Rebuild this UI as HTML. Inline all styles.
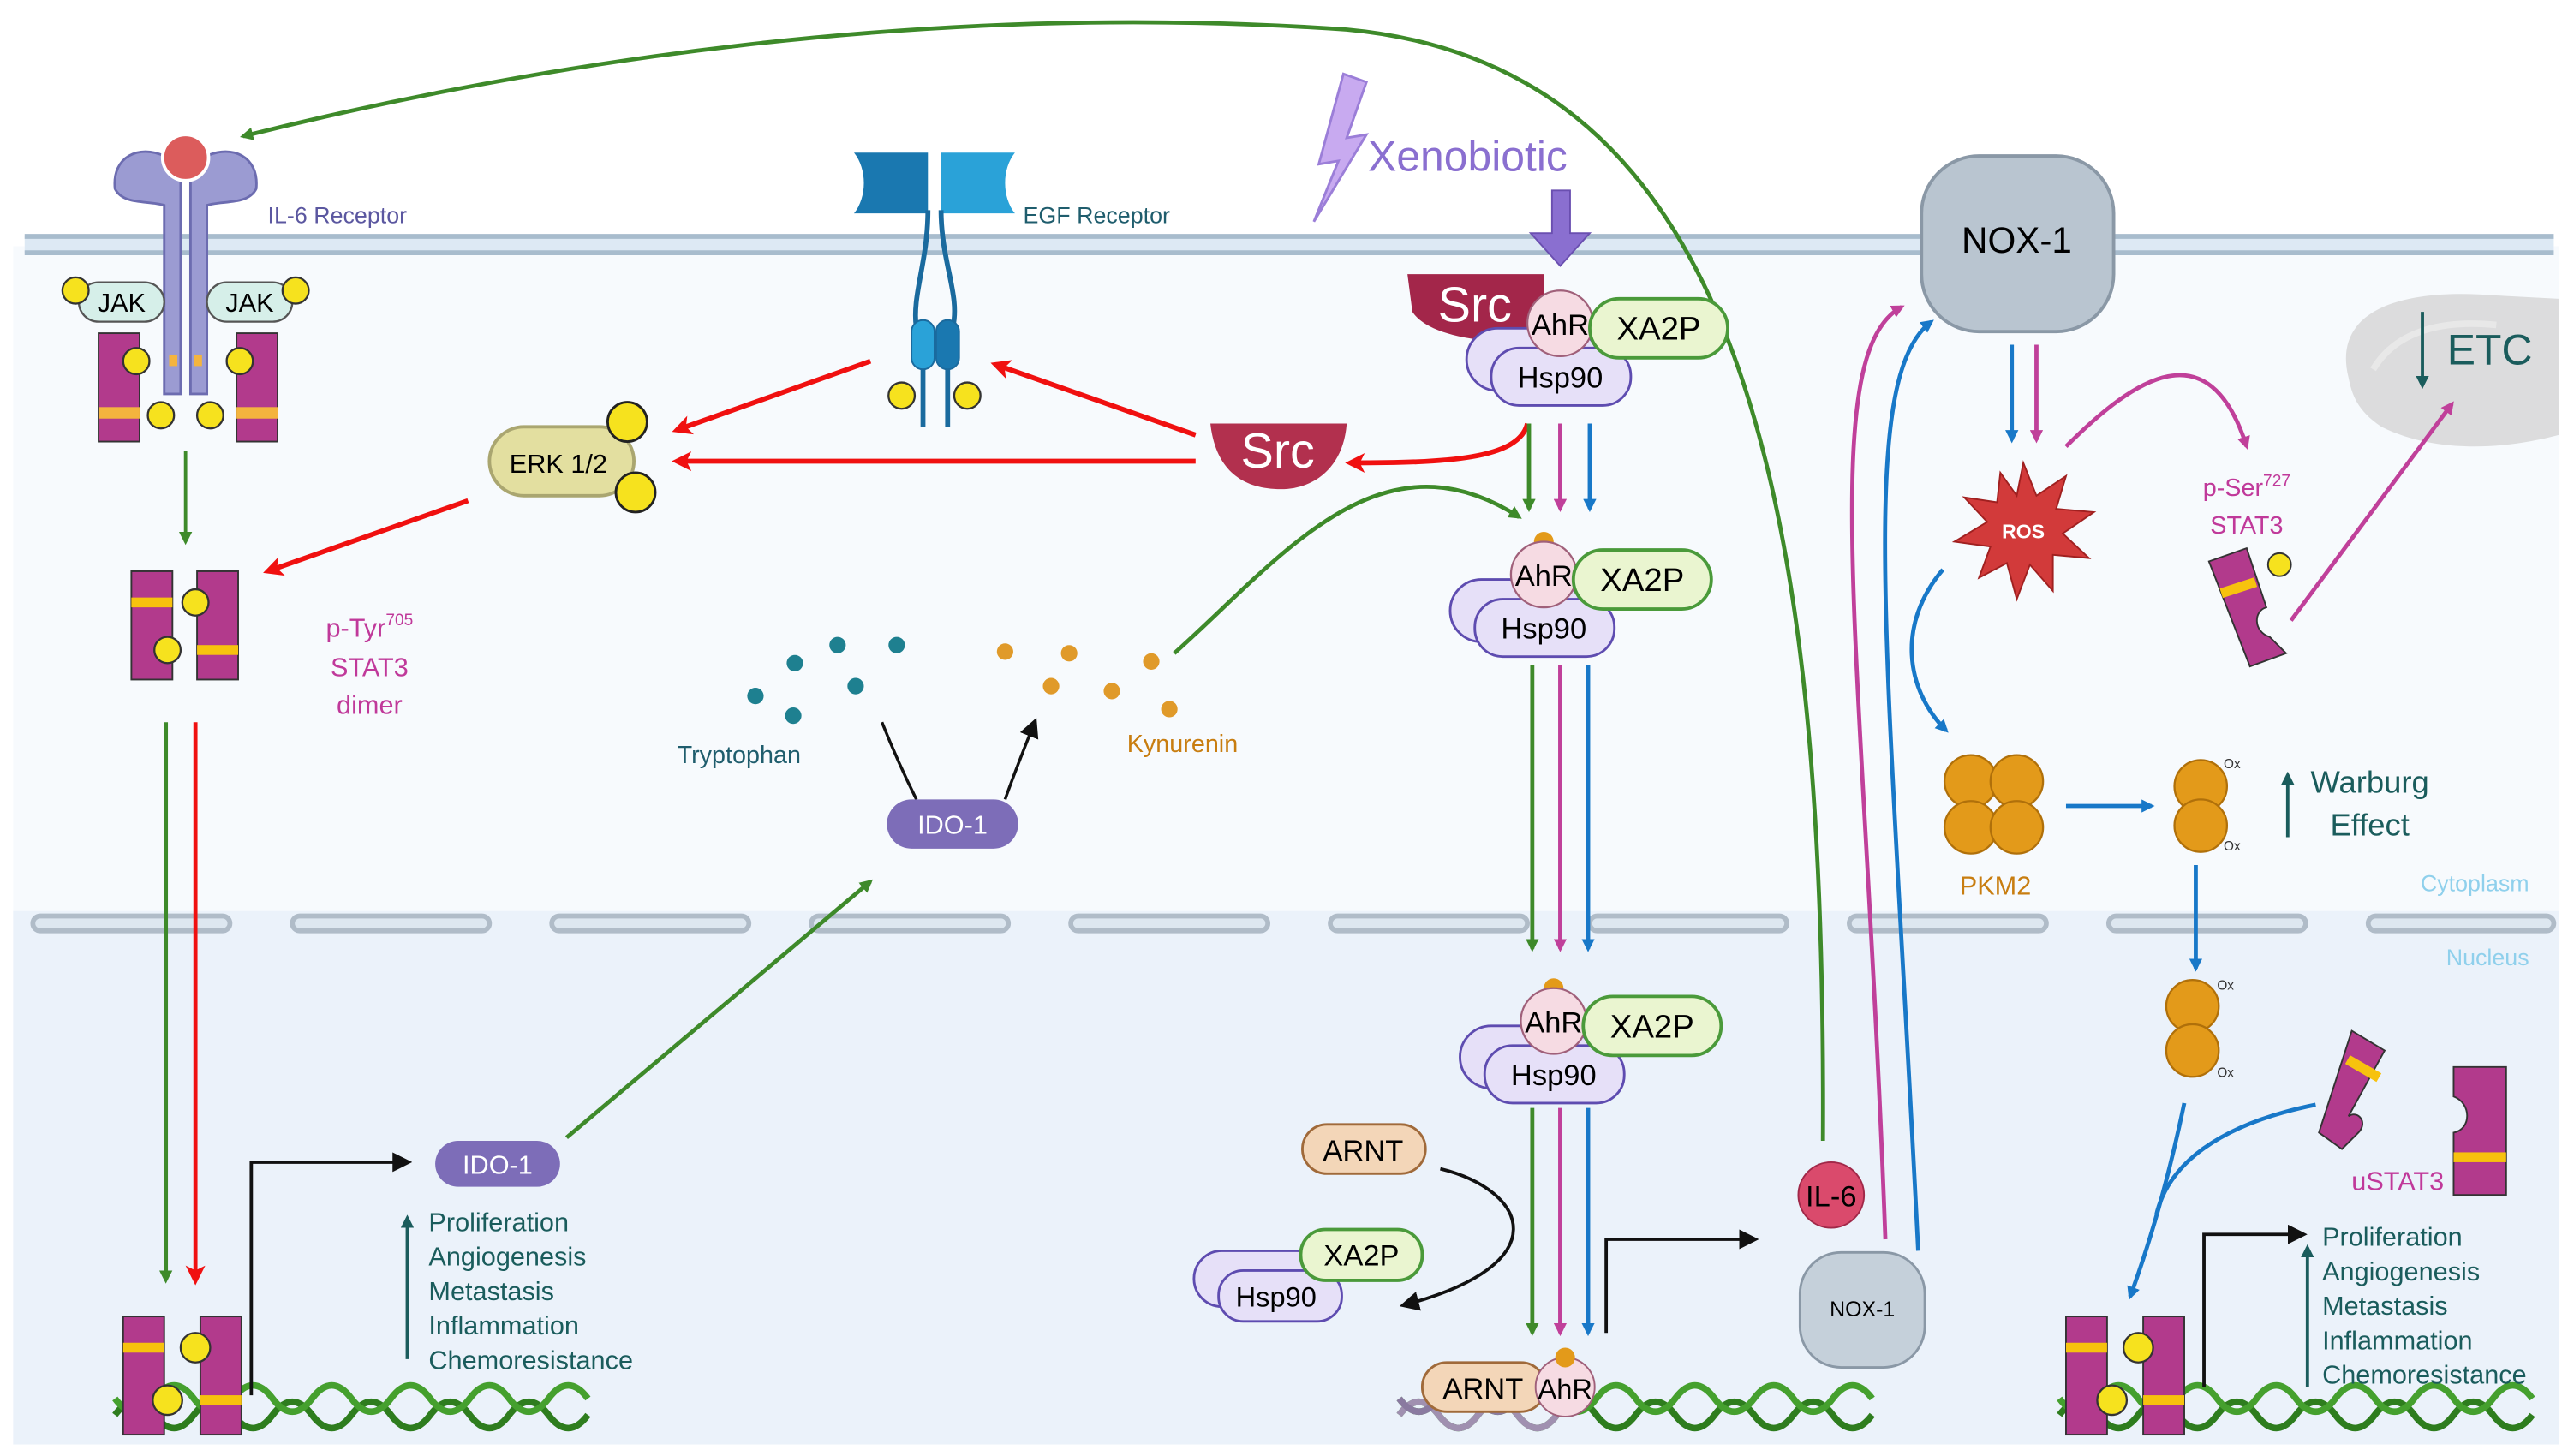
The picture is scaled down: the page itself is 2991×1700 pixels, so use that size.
<!DOCTYPE html>
<html><head><meta charset="utf-8"><style>
html,body{margin:0;padding:0;background:#fff}
svg{display:block}
text{font-family:"Liberation Sans",sans-serif}
</style></head><body>
<svg width="2991" height="1700" viewBox="0 0 1560 887" preserveAspectRatio="none" xmlns="http://www.w3.org/2000/svg">
<defs>
<marker id="ag" markerWidth="8" markerHeight="8" refX="6" refY="4" orient="auto" markerUnits="userSpaceOnUse"><path d="M0,0 L8,4 L0,8 Z" fill="#3e8a2a"/></marker>
<marker id="ar" markerWidth="12" markerHeight="12" refX="9" refY="6" orient="auto" markerUnits="userSpaceOnUse"><path d="M0,0 L12,6 L0,12 L3,6 Z" fill="#f01010"/></marker>
<marker id="am" markerWidth="8" markerHeight="8" refX="6" refY="4" orient="auto" markerUnits="userSpaceOnUse"><path d="M0,0 L8,4 L0,8 Z" fill="#c0409a"/></marker>
<marker id="ab" markerWidth="8" markerHeight="8" refX="6" refY="4" orient="auto" markerUnits="userSpaceOnUse"><path d="M0,0 L8,4 L0,8 Z" fill="#1878c8"/></marker>
<marker id="ak" markerWidth="12" markerHeight="12" refX="9" refY="6" orient="auto" markerUnits="userSpaceOnUse"><path d="M0,0 L12,6 L0,12 Z" fill="#111"/></marker>
<marker id="at" markerWidth="8" markerHeight="8" refX="6" refY="4" orient="auto" markerUnits="userSpaceOnUse"><path d="M0,0 L8,4 L0,8 Z" fill="#1a5c5c"/></marker>
</defs>
<!-- backgrounds -->
<rect x="0" y="0" width="1560" height="887" fill="#fff"/>
<rect x="8" y="150" width="1550" height="410" fill="#f7fafd"/>
<rect x="8" y="555" width="1550" height="325" fill="#ebf2fa"/>
<!-- membrane -->
<rect x="15" y="144" width="1540" height="10" fill="#dde9f4"/>
<line x1="15" y1="144" x2="1555" y2="144" stroke="#a8bccd" stroke-width="3"/>
<line x1="15" y1="154" x2="1555" y2="154" stroke="#a8bccd" stroke-width="3"/>
<!-- nuclear envelope -->
<g fill="#dde7f0" stroke="#b0bcc8" stroke-width="3">
<rect x="20" y="558" width="120" height="9" rx="4.5"/><rect x="178" y="558" width="120" height="9" rx="4.5"/>
<rect x="336" y="558" width="120" height="9" rx="4.5"/><rect x="494" y="558" width="120" height="9" rx="4.5"/>
<rect x="652" y="558" width="120" height="9" rx="4.5"/><rect x="810" y="558" width="120" height="9" rx="4.5"/>
<rect x="968" y="558" width="120" height="9" rx="4.5"/><rect x="1126" y="558" width="120" height="9" rx="4.5"/>
<rect x="1284" y="558" width="120" height="9" rx="4.5"/><rect x="1442" y="558" width="113" height="9" rx="4.5"/>
</g>
<text x="1540" y="543" font-size="14" fill="#8fd0ec" text-anchor="end">Cytoplasm</text>
<text x="1540" y="588" font-size="14" fill="#8fd0ec" text-anchor="end">Nucleus</text>

<!-- mitochondria -->
<path d="M1430,230 C1420,190 1460,175 1520,180 L1558,182 L1558,265 C1520,275 1480,275 1450,260 C1435,250 1432,240 1430,230 Z" fill="#d4d4d4" opacity="0.8"/>
<path d="M1445,225 C1460,200 1490,195 1520,198" stroke="#e8e8e8" stroke-width="4" fill="none"/>
<line x1="1475" y1="190" x2="1475" y2="235" stroke="#1a5c5c" stroke-width="2" marker-end="url(#at)"/>
<text x="1490" y="222" font-size="26" fill="#1a5c5c">ETC</text>

<!-- big green path -->
<path d="M1110,695 C1112,300 1060,40 820,18 C560,0 320,40 148,83" stroke="#3e8a2a" stroke-width="2.5" fill="none" marker-end="url(#ag)"/>

<!-- IL-6 receptor -->
<g>
<path d="M70,115 C68,95 85,88 100,95 L110,108 L110,240 L100,240 L100,125 C90,122 75,125 70,115Z" fill="#9b9bd2" stroke="#6c6cb0" stroke-width="1.5"/>
<path d="M156,115 C158,95 141,88 126,95 L116,108 L116,240 L126,240 L126,125 C136,122 151,125 156,115Z" fill="#9b9bd2" stroke="#6c6cb0" stroke-width="1.5"/>
<circle cx="113" cy="96" r="14" fill="#dc5c5c" stroke="#fff" stroke-width="2"/>
<text x="163" y="136" font-size="14" fill="#5b57a0">IL-6 Receptor</text>
<rect x="48" y="172" width="52" height="24" rx="12" fill="#d6efe9" stroke="#555" stroke-width="1.2"/>
<rect x="126" y="172" width="52" height="24" rx="12" fill="#d6efe9" stroke="#555" stroke-width="1.2"/>
<text x="74" y="190" font-size="16" text-anchor="middle">JAK</text>
<text x="152" y="190" font-size="16" text-anchor="middle">JAK</text>
<g fill="#f6e21e" stroke="#333" stroke-width="1.2"><circle cx="46" cy="177" r="8"/><circle cx="180" cy="177" r="8"/></g>
<rect x="60" y="203" width="25" height="66" fill="#b23a8c" stroke="#333" stroke-width="1"/>
<rect x="144" y="203" width="25" height="66" fill="#b23a8c" stroke="#333" stroke-width="1"/>
<rect x="60" y="248" width="25" height="7" fill="#f4b43e"/><rect x="144" y="248" width="25" height="7" fill="#f4b43e"/>
<rect x="103" y="216" width="5" height="7" fill="#f4b43e"/><rect x="118" y="216" width="5" height="7" fill="#f4b43e"/>
<g fill="#f6e21e" stroke="#333" stroke-width="1.2"><circle cx="83" cy="220" r="8"/><circle cx="146" cy="220" r="8"/><circle cx="98" cy="253" r="8"/><circle cx="128" cy="253" r="8"/></g>
</g>
<line x1="113" y1="275" x2="113" y2="330" stroke="#3e8a2a" stroke-width="2" marker-end="url(#ag)"/>
<!-- p-Tyr dimer -->
<rect x="80" y="348" width="25" height="66" fill="#b23a8c" stroke="#333"/>
<rect x="120" y="348" width="25" height="66" fill="#b23a8c" stroke="#333"/>
<rect x="80" y="364" width="25" height="6" fill="#f7c20e"/><rect x="120" y="393" width="25" height="6" fill="#f7c20e"/>
<g fill="#f6e21e" stroke="#333" stroke-width="1.2"><circle cx="119" cy="367" r="8"/><circle cx="102" cy="396" r="8"/></g>
<text x="225" y="388" font-size="16" fill="#c0399a" text-anchor="middle">p-Tyr<tspan font-size="10" dy="-7">705</tspan></text>
<text x="225" y="412" font-size="16" fill="#c0399a" text-anchor="middle">STAT3</text>
<text x="225" y="435" font-size="16" fill="#c0399a" text-anchor="middle">dimer</text>
<line x1="101" y1="440" x2="101" y2="780" stroke="#3e8a2a" stroke-width="2.5" marker-end="url(#ag)"/>
<line x1="119" y1="440" x2="119" y2="780" stroke="#f01010" stroke-width="2.5" marker-end="url(#ar)"/>

<!-- DNA helper: left -->
<g stroke-width="4" fill="none">
<path d="M70,862 q12,-16 24,0 t24,0 t24,0 t24,0 t24,0 t24,0 t24,0 t24,0 t24,0 t24,0 t24,0 t24,0" stroke="#2e7d1e"/>
<path d="M70,852 q12,16 24,0 t24,0 t24,0 t24,0 t24,0 t24,0 t24,0 t24,0 t24,0 t24,0 t24,0 t24,0" stroke="#45a02e"/>
<path d="M852,862 q12,-16 24,0 t24,0 t24,0 t24,0 t24,0 t24,0 t24,0 t24,0 t24,0 t24,0 t24,0 t24,0" stroke="#2e7d1e"/>
<path d="M852,852 q12,16 24,0 t24,0 t24,0 t24,0 t24,0 t24,0 t24,0 t24,0 t24,0 t24,0 t24,0 t24,0" stroke="#45a02e"/>
<path d="M1254,862 q12,-16 24,0 t24,0 t24,0 t24,0 t24,0 t24,0 t24,0 t24,0 t24,0 t24,0 t24,0 t24,0" stroke="#2e7d1e"/>
<path d="M1254,852 q12,16 24,0 t24,0 t24,0 t24,0 t24,0 t24,0 t24,0 t24,0 t24,0 t24,0 t24,0 t24,0" stroke="#45a02e"/>
<path d="M852,862 q12,-16 24,0 t24,0 t24,0 t24,0" stroke="#a090b0"/>
<path d="M852,852 q12,16 24,0 t24,0 t24,0 t24,0" stroke="#8a7aa0"/>
</g>
<!-- bottom-left dimer -->
<rect x="75" y="802" width="25" height="72" fill="#b23a8c" stroke="#333"/>
<rect x="122" y="802" width="25" height="72" fill="#b23a8c" stroke="#333"/>
<rect x="75" y="818" width="25" height="6" fill="#f7c20e"/><rect x="122" y="850" width="25" height="6" fill="#f7c20e"/>
<g fill="#f6e21e" stroke="#333" stroke-width="1.2"><circle cx="119" cy="821" r="9"/><circle cx="102" cy="853" r="9"/></g>
<polyline points="153,850 153,708 248,708" stroke="#111" stroke-width="2" fill="none" marker-end="url(#ak)"/>
<rect x="265" y="695" width="76" height="28" rx="14" fill="#7d6db8"/>
<text x="303" y="715" font-size="16" fill="#fff" text-anchor="middle">IDO-1</text>
<line x1="345" y1="693" x2="530" y2="537" stroke="#3e8a2a" stroke-width="2.5" marker-end="url(#ag)"/>
<line x1="248" y1="828" x2="248" y2="742" stroke="#1a5c5c" stroke-width="2" marker-end="url(#at)"/>
<g font-size="16" fill="#1a5c5c">
<text x="261" y="750">Proliferation</text><text x="261" y="771">Angiogenesis</text><text x="261" y="792">Metastasis</text><text x="261" y="813">Inflammation</text><text x="261" y="834">Chemoresistance</text>
</g>

<!-- EGF receptor -->
<path d="M520,93 L565,93 L565,130 L520,130 C528,120 528,103 520,93 Z" fill="#1a78b0"/>
<path d="M618,93 L573,93 L573,130 L618,130 C610,120 610,103 618,93 Z" fill="#2aa2d8"/>
<path d="M565,128 C565,160 555,180 558,200 M573,128 C573,160 585,180 580,200" stroke="#1a6a9e" stroke-width="3" fill="none"/>
<rect x="555" y="195" width="14" height="30" rx="7" fill="#2aa2d8" stroke="#1a6a9e"/>
<rect x="570" y="195" width="14" height="30" rx="7" fill="#1a78b0" stroke="#1a6a9e"/>
<line x1="562" y1="225" x2="562" y2="260" stroke="#1a6a9e" stroke-width="3"/><line x1="577" y1="225" x2="577" y2="260" stroke="#1a6a9e" stroke-width="3"/>
<g fill="#f6e21e" stroke="#333" stroke-width="1.2"><circle cx="549" cy="241" r="8"/><circle cx="589" cy="241" r="8"/></g>
<text x="623" y="136" font-size="14" fill="#1f5d6d">EGF Receptor</text>
<!-- ERK -->
<rect x="298" y="260" width="88" height="42" rx="21" fill="#e3dfa0" stroke="#aaa670" stroke-width="2"/>
<text x="340" y="288" font-size="16" text-anchor="middle">ERK 1/2</text>
<g fill="#f6e21e" stroke="#222" stroke-width="1.5"><circle cx="382" cy="257" r="12"/><circle cx="387" cy="300" r="12"/></g>
<g stroke="#f01010" stroke-width="3" fill="none">
<line x1="530" y1="220" x2="412" y2="262" marker-end="url(#ar)"/>
<line x1="728" y1="265" x2="606" y2="222" marker-end="url(#ar)"/>
<line x1="728" y1="281" x2="412" y2="281" marker-end="url(#ar)"/>
<line x1="285" y1="305" x2="163" y2="348" marker-end="url(#ar)"/>
<path d="M930,258 C925,280 880,282 822,282" marker-end="url(#ar)"/>
</g>
<!-- Src right -->
<path d="M737,258 L820,258 C818,285 800,298 780,298 C755,298 740,285 737,258Z" fill="#b2304e"/>
<text x="778" y="285" font-size="30" fill="#fff" text-anchor="middle">Src</text>

<!-- Xenobiotic -->
<path d="M818,45 L803,100 L815,98 L800,135 L832,82 L820,84 L832,50 Z" fill="#c8aaf0" stroke="#9b7ed8" stroke-width="1.5"/>
<text x="833" y="104" font-size="26" fill="#8a6fd0">Xenobiotic</text>
<path d="M945,116 L956,116 L956,142 L968,142 L950,162 L932,142 L945,142 Z" fill="#8a6fd0" stroke="#6a4fb0"/>

<!-- top complex -->
<path d="M857,167 L940,167 L940,208 C905,210 870,205 860,190 Z" fill="#a3264a"/>
<text x="898" y="196" font-size="30" fill="#fff" text-anchor="middle">Src</text>
<g transform="translate(950,197)">
<rect x="-57" y="3" width="80" height="38" rx="19" fill="#e6e0f8" stroke="#5e4cb0" stroke-width="1.5"/>
<rect x="-42" y="15" width="85" height="35" rx="17" fill="#e6e0f8" stroke="#5e4cb0" stroke-width="1.5"/>
<text x="0" y="39" font-size="18" text-anchor="middle">Hsp90</text>
<circle cx="0" cy="0" r="20" fill="#f6dbe3" stroke="#a0607a" stroke-width="1.2"/>
<text x="0" y="7" font-size="18" text-anchor="middle">AhR</text>
<rect x="18" y="-15" width="84" height="36" rx="18" fill="#eaf5d0" stroke="#4a9a3a" stroke-width="2"/>
<text x="60" y="10" font-size="20" text-anchor="middle">XA2P</text>
</g>
<g stroke-width="2.5">
<line x1="931" y1="258" x2="931" y2="310" stroke="#3e8a2a" marker-end="url(#ag)"/>
<line x1="950" y1="258" x2="950" y2="310" stroke="#c0409a" marker-end="url(#am)"/>
<line x1="968" y1="258" x2="968" y2="310" stroke="#1878c8" marker-end="url(#ab)"/>
</g>
<path d="M715,398 C780,340 840,260 925,315" stroke="#3e8a2a" stroke-width="2.5" fill="none" marker-end="url(#ag)"/>
<!-- middle complex -->
<g transform="translate(940,350)">
<circle cx="0" cy="-20" r="6" fill="#e39a1a"/>
<rect x="-57" y="3" width="80" height="38" rx="19" fill="#e6e0f8" stroke="#5e4cb0" stroke-width="1.5"/>
<rect x="-42" y="15" width="85" height="35" rx="17" fill="#e6e0f8" stroke="#5e4cb0" stroke-width="1.5"/>
<text x="0" y="39" font-size="18" text-anchor="middle">Hsp90</text>
<circle cx="0" cy="0" r="20" fill="#f6dbe3" stroke="#a0607a" stroke-width="1.2"/>
<text x="0" y="7" font-size="18" text-anchor="middle">AhR</text>
<rect x="18" y="-15" width="84" height="36" rx="18" fill="#eaf5d0" stroke="#4a9a3a" stroke-width="2"/>
<text x="60" y="10" font-size="20" text-anchor="middle">XA2P</text>
</g>
<g stroke-width="2.5">
<line x1="933" y1="405" x2="933" y2="578" stroke="#3e8a2a" marker-end="url(#ag)"/>
<line x1="950" y1="405" x2="950" y2="578" stroke="#c0409a" marker-end="url(#am)"/>
<line x1="967" y1="405" x2="967" y2="578" stroke="#1878c8" marker-end="url(#ab)"/>
</g>
<!-- lower complex -->
<g transform="translate(946,622)">
<circle cx="0" cy="-20" r="6" fill="#e39a1a"/>
<rect x="-57" y="3" width="80" height="38" rx="19" fill="#e6e0f8" stroke="#5e4cb0" stroke-width="1.5"/>
<rect x="-42" y="15" width="85" height="35" rx="17" fill="#e6e0f8" stroke="#5e4cb0" stroke-width="1.5"/>
<text x="0" y="39" font-size="18" text-anchor="middle">Hsp90</text>
<circle cx="0" cy="0" r="20" fill="#f6dbe3" stroke="#a0607a" stroke-width="1.2"/>
<text x="0" y="7" font-size="18" text-anchor="middle">AhR</text>
<rect x="18" y="-15" width="84" height="36" rx="18" fill="#eaf5d0" stroke="#4a9a3a" stroke-width="2"/>
<text x="60" y="10" font-size="20" text-anchor="middle">XA2P</text>
</g>
<g stroke-width="2.5">
<line x1="933" y1="675" x2="933" y2="812" stroke="#3e8a2a" marker-end="url(#ag)"/>
<line x1="950" y1="675" x2="950" y2="812" stroke="#c0409a" marker-end="url(#am)"/>
<line x1="967" y1="675" x2="967" y2="812" stroke="#1878c8" marker-end="url(#ab)"/>
</g>
<!-- ARNT -->
<rect x="793" y="685" width="75" height="30" rx="15" fill="#f3d6b8" stroke="#a06a3a" stroke-width="1.5"/>
<text x="830" y="707" font-size="18" text-anchor="middle">ARNT</text>
<path d="M877,712 C930,725 950,770 855,795" stroke="#111" stroke-width="2" fill="none" marker-end="url(#ak)"/>
<rect x="727" y="762" width="80" height="34" rx="17" fill="#e6e0f8" stroke="#5e4cb0" stroke-width="1.5"/>
<rect x="742" y="774" width="75" height="31" rx="15" fill="#e6e0f8" stroke="#5e4cb0" stroke-width="1.5"/>
<text x="777" y="796" font-size="17" text-anchor="middle">Hsp90</text>
<rect x="792" y="749" width="74" height="31" rx="15" fill="#eaf5d0" stroke="#4a9a3a" stroke-width="2"/>
<text x="829" y="771" font-size="18" text-anchor="middle">XA2P</text>
<polyline points="978,812 978,755 1068,755" stroke="#111" stroke-width="2" fill="none" marker-end="url(#ak)"/>
<!-- bottom ARNT AhR -->
<rect x="866" y="830" width="75" height="30" rx="15" fill="#f3d6b8" stroke="#a06a3a" stroke-width="1.5"/>
<text x="903" y="852" font-size="18" text-anchor="middle">ARNT</text>
<circle cx="953" cy="845" r="18" fill="#f6dbe3" stroke="#a0607a"/>
<circle cx="953" cy="827" r="6" fill="#e39a1a"/>
<text x="953" y="852" font-size="17" text-anchor="middle">AhR</text>

<!-- Tryptophan / Kynurenin -->
<g fill="#1e8090"><circle cx="484" cy="404" r="5"/><circle cx="510" cy="393" r="5"/><circle cx="546" cy="393" r="5"/><circle cx="460" cy="424" r="5"/><circle cx="521" cy="418" r="5"/><circle cx="483" cy="436" r="5"/></g>
<g fill="#e09a2a"><circle cx="612" cy="397" r="5"/><circle cx="651" cy="398" r="5"/><circle cx="701" cy="403" r="5"/><circle cx="640" cy="418" r="5"/><circle cx="677" cy="421" r="5"/><circle cx="712" cy="432" r="5"/></g>
<text x="450" y="465" font-size="15" fill="#1f5d6d" text-anchor="middle">Tryptophan</text>
<text x="720" y="458" font-size="15" fill="#c87d10" text-anchor="middle">Kynurenin</text>
<path d="M537,440 C545,460 552,475 558,487" stroke="#111" stroke-width="1.8" fill="none"/>
<path d="M612,487 C618,470 624,455 630,440" stroke="#111" stroke-width="1.8" fill="none" marker-end="url(#ak)"/>
<rect x="540" y="487" width="80" height="30" rx="15" fill="#7d6db8"/>
<text x="580" y="508" font-size="16" fill="#fff" text-anchor="middle">IDO-1</text>

<!-- NOX-1 big -->
<rect x="1170" y="95" width="117" height="107" rx="35" fill="#b9c5d0" stroke="#8a98a6" stroke-width="2"/>
<text x="1228" y="154" font-size="22" text-anchor="middle">NOX-1</text>
<path d="M1148,755 C1135,400 1105,215 1158,187" stroke="#c0409a" stroke-width="2.5" fill="none" marker-end="url(#am)"/>
<path d="M1168,762 C1150,400 1130,230 1176,196" stroke="#1878c8" stroke-width="2.5" fill="none" marker-end="url(#ab)"/>
<circle cx="1115" cy="728" r="20" fill="#da4a6c" stroke="#a02848"/>
<text x="1115" y="735" font-size="18" text-anchor="middle">IL-6</text>
<rect x="1096" y="763" width="76" height="70" rx="25" fill="#c5d0da" stroke="#8a98a6" stroke-width="1.5"/>
<text x="1134" y="802" font-size="13" text-anchor="middle">NOX-1</text>
<line x1="1225" y1="210" x2="1225" y2="268" stroke="#1878c8" stroke-width="2.5" marker-end="url(#ab)"/>
<line x1="1240" y1="210" x2="1240" y2="268" stroke="#c0409a" stroke-width="2.5" marker-end="url(#am)"/>
<!-- ROS -->
<polygon points="1232,282 1240,302 1258,290 1252,310 1275,312 1256,325 1272,340 1250,338 1250,360 1236,344 1228,365 1222,343 1205,352 1212,333 1190,330 1210,318 1196,303 1216,306 1218,288 1228,302" fill="#d23a3a" stroke="#a02020"/>
<text x="1232" y="328" font-size="12" fill="#fff" font-weight="bold" text-anchor="middle">ROS</text>
<path d="M1258,272 C1300,230 1345,200 1368,272" stroke="#c0409a" stroke-width="2.5" fill="none" marker-end="url(#am)"/>
<text x="1368" y="302" font-size="15" fill="#c0399a" text-anchor="middle">p-Ser<tspan font-size="10" dy="-6">727</tspan></text>
<text x="1368" y="325" font-size="15" fill="#c0399a" text-anchor="middle">STAT3</text>
<path d="M1345,342 L1368,334 L1380,370 C1372,372 1372,385 1382,388 L1392,398 L1370,406 Z" fill="#b23a8c" stroke="#333"/>
<rect x="1352" y="355" width="22" height="6" fill="#f7c20e" transform="rotate(-18 1363 358)"/>
<circle cx="1388" cy="344" r="7" fill="#f6e21e" stroke="#333"/>
<line x1="1395" y1="378" x2="1493" y2="246" stroke="#c0409a" stroke-width="2.5" marker-end="url(#am)"/>
<path d="M1183,347 C1155,380 1160,420 1185,445" stroke="#1878c8" stroke-width="2.5" fill="none" marker-end="url(#ab)"/>
<!-- PKM2 -->
<g fill="#e39a1a" stroke="#b0700a" stroke-width="1.2">
<circle cx="1200" cy="476" r="16"/><circle cx="1228" cy="476" r="16"/><circle cx="1200" cy="504" r="16"/><circle cx="1228" cy="504" r="16"/>
<circle cx="1340" cy="479" r="16"/><circle cx="1340" cy="503" r="16"/>
<circle cx="1335" cy="613" r="16"/><circle cx="1335" cy="640" r="16"/>
</g>
<text x="1215" y="545" font-size="16" fill="#c87d10" text-anchor="middle">PKM2</text>
<line x1="1258" y1="491" x2="1310" y2="491" stroke="#1878c8" stroke-width="2.5" marker-end="url(#ab)"/>
<g font-size="8" fill="#333"><text x="1354" y="468">Ox</text><text x="1354" y="518">Ox</text><text x="1350" y="603">Ox</text><text x="1350" y="656">Ox</text></g>
<line x1="1393" y1="510" x2="1393" y2="472" stroke="#1a5c5c" stroke-width="2" marker-end="url(#at)"/>
<text x="1443" y="483" font-size="19" fill="#1a5c5c" text-anchor="middle">Warburg</text>
<text x="1443" y="509" font-size="19" fill="#1a5c5c" text-anchor="middle">Effect</text>
<line x1="1337" y1="527" x2="1337" y2="590" stroke="#1878c8" stroke-width="2.5" marker-end="url(#ab)"/>
<!-- uSTAT3 -->
<path d="M1432,628 L1452,640 L1430,680 C1436,676 1442,684 1436,690 L1426,700 L1412,690 Z" fill="#b23a8c" stroke="#333"/>
<rect x="1428" y="648" width="22" height="6" fill="#f7c20e" transform="rotate(30 1439 651)"/>
<path d="M1494,650 L1526,650 L1526,728 L1494,728 L1494,690 C1505,688 1505,672 1494,668 Z" fill="#b23a8c" stroke="#333"/>
<rect x="1494" y="702" width="32" height="6" fill="#f7c20e"/>
<text x="1460" y="725" font-size="16" fill="#c0399a" text-anchor="middle">uSTAT3</text>
<path d="M1330,672 C1320,720 1308,760 1297,790" stroke="#1878c8" stroke-width="2.5" fill="none" marker-end="url(#ab)"/>
<path d="M1410,673 C1350,685 1320,710 1313,740" stroke="#1878c8" stroke-width="2.5" fill="none"/>
<!-- bottom right dimer -->
<rect x="1258" y="802" width="25" height="72" fill="#b23a8c" stroke="#333"/>
<rect x="1305" y="802" width="25" height="72" fill="#b23a8c" stroke="#333"/>
<rect x="1258" y="818" width="25" height="6" fill="#f7c20e"/><rect x="1305" y="850" width="25" height="6" fill="#f7c20e"/>
<g fill="#f6e21e" stroke="#333" stroke-width="1.2"><circle cx="1302" cy="821" r="9"/><circle cx="1286" cy="853" r="9"/></g>
<polyline points="1342,845 1342,752 1402,752" stroke="#111" stroke-width="2" fill="none" marker-end="url(#ak)"/>
<line x1="1405" y1="845" x2="1405" y2="760" stroke="#1a5c5c" stroke-width="2" marker-end="url(#at)"/>
<g font-size="16" fill="#1a5c5c">
<text x="1414" y="759">Proliferation</text><text x="1414" y="780">Angiogenesis</text><text x="1414" y="801">Metastasis</text><text x="1414" y="822">Inflammation</text><text x="1414" y="843">Chemoresistance</text>
</g>
</svg>
</body></html>
